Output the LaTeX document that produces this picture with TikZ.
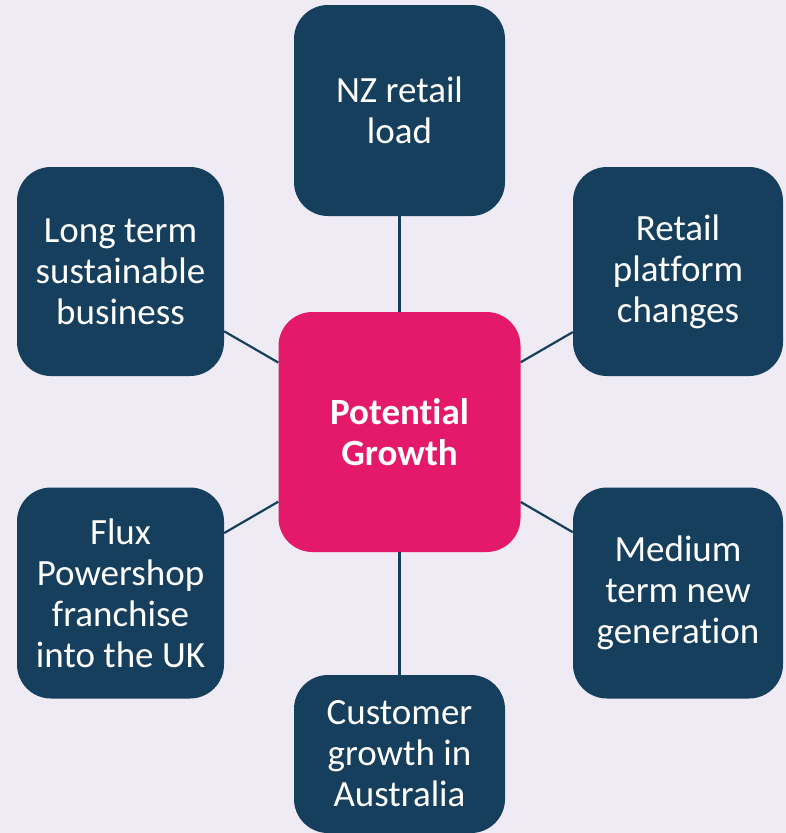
\documentclass[tikz,border=0pt]{standalone}
\usepackage{fontspec}
\setmainfont{Carlito}[Ligatures={NoCommon,NoRare}]
\definecolor{bgc}{HTML}{EFEBF5}
\definecolor{navy}{HTML}{163E5D}
\definecolor{pinkc}{HTML}{E5196A}
\tikzset{
  box/.style={fill=navy, rounded corners=34pt, text=white, align=center, inner sep=0pt,
    font=\fontsize{37}{41}\selectfont},
  hub/.style={fill=pinkc, rounded corners=34pt, text=white, align=center, inner sep=0pt,
    font=\fontsize{37}{41}\selectfont\bfseries, minimum width=242pt, minimum height=240pt},
  link/.style={draw=navy, line width=2.2pt}
}
\begin{document}
\begin{tikzpicture}[x=1pt,y=-1pt]
\fill[bgc] (0,0) rectangle (786,833);
\useasboundingbox (0,0) rectangle (786,833);
\node[hub] (c) at (399.5,432) {Potential\\Growth};
\node[box, minimum width=211pt, minimum height=211pt] (t) at (399.5,110.5) {NZ retail\\load};
\node[box, minimum width=207pt, minimum height=209pt] (lt) at (120.5,271.5) {Long term\\sustainable\\business};
\node[box, minimum width=210pt, minimum height=209pt] (rt) at (678,271.5) {Retail\\platform\\changes};
\node[box, minimum width=207pt, minimum height=211pt] (lb) at (120.5,593) {Flux\\Powershop\\franchise\\into the UK};
\node[box, minimum width=210pt, minimum height=211pt] (rb) at (678,593) {Medium\\term new\\generation};
\node[box, minimum width=211pt, minimum height=158pt] (b) at (399.5,754) {Customer\\growth in\\Australia};
\draw[link] (t) -- (c);
\draw[link] (b) -- (c);
\draw[link] (lt) -- (c);
\draw[link] (rt) -- (c);
\draw[link] (lb) -- (c);
\draw[link] (rb) -- (c);
\end{tikzpicture}
\end{document}
